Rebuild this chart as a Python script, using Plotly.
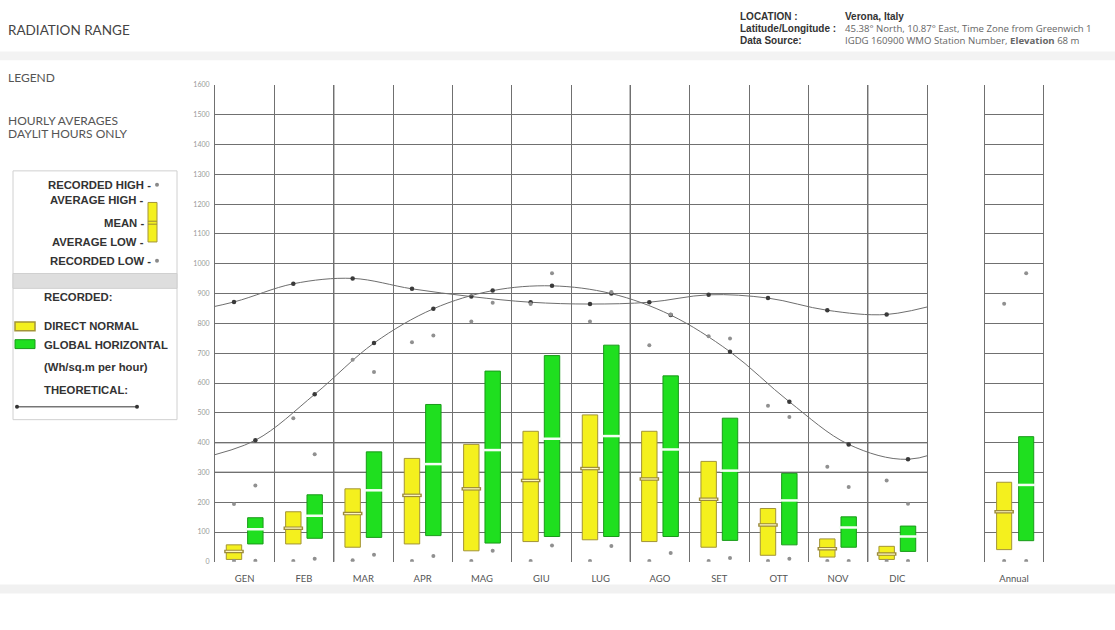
import plotly.graph_objects as go

# ---------------- data ----------------
months = ["GEN", "FEB", "MAR", "APR", "MAG", "GIU", "LUG", "AGO", "SET", "OTT", "NOV", "DIC"]

# Direct normal (yellow)
dn_avg_high = [57, 168, 245, 347, 394, 438, 493, 438, 337, 179, 77, 52]
dn_mean     = [35, 113, 162, 223, 245, 273, 313, 278, 210, 124, 44, 26]
dn_avg_low  = [8, 60, 49, 60, 37, 68, 74, 68, 49, 22, 16, 8]
dn_rec_high = [194, 482, 678, 737, 806, 865, 806, 727, 757, 524, 319, 273]
dn_rec_low  = [3, 3, 5, 3, 3, 3, 3, 3, 3, 3, 3, 3]
dn_theo     = [872, 933, 951, 916, 890, 871, 865, 871, 896, 885, 844, 830]

# Global horizontal (green)
gh_avg_high = [148, 225, 369, 528, 640, 692, 727, 624, 482, 297, 151, 120]
gh_mean     = [109, 155, 240, 328, 375, 413, 422, 377, 306, 206, 115, 85]
gh_avg_low  = [60, 79, 82, 88, 63, 85, 85, 85, 72, 57, 49, 35]
gh_rec_high = [256, 361, 637, 759, 869, 968, 905, 830, 749, 486, 251, 195]
gh_rec_low  = [4, 10, 24, 20, 37, 55, 53, 30, 13, 10, 3, 3]
gh_theo     = [408, 562, 734, 849, 910, 926, 900, 828, 705, 537, 394, 344]

# Annual
ann_dn = dict(hi=267, mean=168, lo=41, rhi=866, rlo=3)
ann_gh = dict(hi=420, mean=258, lo=71, rhi=968, rlo=3)

y_ticks = list(range(0, 1700, 100))

# ---------------- styling ----------------
W, H = 1115, 630
YEL_OFF, GRN_OFF, BW = 0.32, 0.68, 0.26
YEL_FILL, YEL_EDGE = "#f4f01e", "#a39437"
GRN_FILL, GRN_EDGE = "#1fdf1f", "#1a9a1a"
GRID = "#707070"
FONT = "Lato, 'DejaVu Sans', sans-serif"
NARROW = "'Liberation Sans Narrow', 'Liberation Sans', Arial, sans-serif"
WIDE = "'Open Sans', 'Liberation Sans', sans-serif"


def px(x):
    return x / W


def py(y):
    return 1 - y / H


fig = go.Figure()


def add_group(xpos, hi, lo, mean, rhi, rlo, fill, edge, mo, mi, xa, ya, msize):
    fig.add_trace(go.Bar(
        x=xpos, y=[h - l for h, l in zip(hi, lo)], base=lo, width=BW,
        marker=dict(color=fill, line=dict(color=edge, width=1)),
        xaxis=xa, yaxis=ya, showlegend=False, hoverinfo="skip"))
    fig.add_trace(go.Scatter(
        x=xpos, y=mean, mode="markers", xaxis=xa, yaxis=ya, showlegend=False,
        marker=dict(symbol="line-ew", size=msize, line=dict(color=mo, width=3.5 if mi else 2.5))))
    if mi:
        fig.add_trace(go.Scatter(
            x=xpos, y=mean, mode="markers", xaxis=xa, yaxis=ya, showlegend=False,
            marker=dict(symbol="line-ew", size=msize - 2, line=dict(color=mi, width=1.2))))
    fig.add_trace(go.Scatter(
        x=xpos + xpos, y=rhi + rlo, mode="markers", xaxis=xa, yaxis=ya, showlegend=False,
        marker=dict(size=4, color="#909090")))


yel_x = [i + YEL_OFF for i in range(len(months))]
grn_x = [i + GRN_OFF for i in range(len(months))]

# theoretical curves (periodic wrap so the curve reaches both plot edges)
fig.add_trace(go.Scatter(
    x=[yel_x[-1] - 12] + yel_x + [yel_x[0] + 12],
    y=[dn_theo[-1]] + dn_theo + [dn_theo[0]],
    mode="lines+markers", line=dict(color="#6e6e6e", width=1, shape="spline"),
    marker=dict(size=4.5, color="#3a3a3a"), showlegend=False))
fig.add_trace(go.Scatter(
    x=[grn_x[-1] - 12] + grn_x + [grn_x[0] + 12],
    y=[gh_theo[-1]] + gh_theo + [gh_theo[0]],
    mode="lines+markers", line=dict(color="#6e6e6e", width=1, shape="spline"),
    marker=dict(size=4.5, color="#3a3a3a"), showlegend=False))

add_group(yel_x, dn_avg_high, dn_avg_low, dn_mean, dn_rec_high, dn_rec_low,
          YEL_FILL, YEL_EDGE, "#9b8a3a", "#fff8c0", "x", "y", 14)
add_group(grn_x, gh_avg_high, gh_avg_low, gh_mean, gh_rec_high, gh_rec_low,
          GRN_FILL, GRN_EDGE, "#f4fff4", None, "x", "y", 14)

add_group([0.33], [ann_dn["hi"]], [ann_dn["lo"]], [ann_dn["mean"]], [ann_dn["rhi"]], [ann_dn["rlo"]],
          YEL_FILL, YEL_EDGE, "#9b8a3a", "#fff8c0", "x2", "y2", 14)
add_group([0.71], [ann_gh["hi"]], [ann_gh["lo"]], [ann_gh["mean"]], [ann_gh["rhi"]], [ann_gh["rlo"]],
          GRN_FILL, GRN_EDGE, "#f4fff4", None, "x2", "y2", 14)

ydom = [py(564), py(81)]
common_y = dict(range=[0, 1600], domain=ydom, showgrid=False, zeroline=False,
                showline=True, mirror=True, linecolor=GRID, linewidth=1, ticks="",
                minor=dict(tickmode="array", tickvals=y_ticks[1:], showgrid=True,
                           gridcolor=GRID, gridwidth=1, ticks=""))

fig.update_layout(
    width=W, height=H, margin=dict(l=0, r=0, t=0, b=0),
    paper_bgcolor="white", plot_bgcolor="white", barmode="overlay",
    font=dict(family=FONT, color="#444"),
    xaxis=dict(domain=[px(215), px(927)], range=[0, 12], anchor="y",
               tickmode="array", tickvals=[i + 0.5 for i in range(12)], ticktext=months,
               showgrid=False, zeroline=False, showline=False, ticks="",
               ticklabelstandoff=10,
               tickfont=dict(size=9.5, color="#555", family=FONT),
               minor=dict(tickmode="array", tickvals=list(range(1, 12)), showgrid=True,
                          gridcolor=GRID, gridwidth=1, ticks="")),
    yaxis=dict(anchor="x", tickmode="array", tickvals=y_ticks, ticklabelstandoff=3,
               tickfont=dict(size=7, color="#999", family=FONT), **common_y),
    xaxis2=dict(domain=[px(985), px(1043)], range=[0, 1], anchor="y2",
                tickmode="array", tickvals=[0.5], ticktext=["Annual"],
                showgrid=False, zeroline=False, showline=False, ticks="",
                ticklabelstandoff=10,
                tickfont=dict(size=9.5, color="#555", family=FONT)),
    yaxis2=dict(anchor="x2", showticklabels=False, **common_y),
)

shapes = []
# darker month dividers / value lines
for xv in [2, 7, 11]:
    shapes.append(dict(type="line", xref="x", yref="y domain", x0=xv, x1=xv, y0=0, y1=1,
                       line=dict(color="#333", width=1.3), layer="below"))
for yv in [300, 400]:
    shapes.append(dict(type="line", xref="x domain", yref="y", x0=0, x1=1, y0=yv, y1=yv,
                       line=dict(color="#333", width=1.3), layer="below"))
# header / footer bands
shapes.append(dict(type="rect", xref="paper", yref="paper", x0=0, x1=1, y0=py(56), y1=py(47),
                   fillcolor="#f3f3f3", line=dict(width=0), layer="below"))
shapes.append(dict(type="rect", xref="paper", yref="paper", x0=0, x1=1, y0=py(596), y1=py(587),
                   fillcolor="#f1f1f1", line=dict(width=0), layer="below"))
# legend box
shapes.append(dict(type="rect", xref="paper", yref="paper", x0=px(13), x1=px(177), y0=py(420), y1=py(168),
                   fillcolor="white", line=dict(color="#d0d0d0", width=1), layer="below"))
shapes.append(dict(type="rect", xref="paper", yref="paper", x0=px(13), x1=px(177), y0=py(287), y1=py(272),
                   fillcolor="#dedede", line=dict(color="#cfcfcf", width=1), layer="below"))
# legend mini bar
shapes.append(dict(type="rect", xref="paper", yref="paper", x0=px(148), x1=px(157), y0=py(240), y1=py(200),
                   fillcolor=YEL_FILL, line=dict(color=YEL_EDGE, width=1)))
shapes.append(dict(type="line", xref="paper", yref="paper", x0=px(148), x1=px(157), y0=py(219), y1=py(219),
                   line=dict(color="#9b8a3a", width=1)))
shapes.append(dict(type="line", xref="paper", yref="paper", x0=px(148), x1=px(157), y0=py(222), y1=py(222),
                   line=dict(color="#9b8a3a", width=1)))
# legend colour swatches
shapes.append(dict(type="rect", xref="paper", yref="paper", x0=px(15), x1=px(35), y0=py(330), y1=py(321),
                   fillcolor=YEL_FILL, line=dict(color=YEL_EDGE, width=1.5)))
shapes.append(dict(type="rect", xref="paper", yref="paper", x0=px(15), x1=px(35), y0=py(348), y1=py(339),
                   fillcolor=GRN_FILL, line=dict(color=GRN_EDGE, width=1)))
# theoretical sample line with end dots
shapes.append(dict(type="line", xref="paper", yref="paper", x0=px(17), x1=px(137), y0=py(407), y1=py(407),
                   line=dict(color="#333", width=1)))
for xd in [17, 137]:
    shapes.append(dict(type="circle", xref="paper", yref="paper", x0=px(xd - 2), x1=px(xd + 2),
                       y0=py(409), y1=py(405), fillcolor="#333", line=dict(width=0)))
# recorded high/low legend dots
for yd in [182, 259]:
    shapes.append(dict(type="circle", xref="paper", yref="paper", x0=px(155), x1=px(159),
                       y0=py(yd + 2), y1=py(yd - 2), fillcolor="#8a8a8a", line=dict(width=0)))
fig.update_layout(shapes=shapes)

ann = []


def txt(x, y, s, size=8, color="#333", anchor="left", family=FONT):
    ann.append(dict(x=px(x), y=py(y), xref="paper", yref="paper", text=s, showarrow=False,
                    xanchor=anchor, yanchor="middle", xshift=-2 if anchor == "left" else 0,
                    font=dict(size=size, color=color, family=family)))


txt(8, 25, "RADIATION RANGE", 13.5, "#444")
txt(8, 73, "LEGEND", 12, "#555")
txt(8, 117, "HOURLY AVERAGES", 12, "#555")
txt(8, 130, "DAYLIT HOURS ONLY", 12, "#555")

txt(740, 12, "<b>LOCATION :</b>", 10, "#333", family=NARROW)
txt(845, 12, "<b>Verona, Italy</b>", 10, "#333", family=NARROW)
txt(740, 24, "<b>Latitude/Longitude :</b>", 10, "#333", family=NARROW)
txt(845, 24, "45.38° North, 10.87° East, Time Zone from Greenwich 1", 9.6, "#666", family=WIDE)
txt(740, 36, "<b>Data Source:</b>", 10, "#333", family=NARROW)
txt(845, 36, "IGDG 160900 WMO Station Number, <b>Elevation</b> 68 m", 9.6, "#666", family=WIDE)

LS = 11.3
txt(153, 182, "<b>RECORDED HIGH -</b>", LS, "#333", "right", NARROW)
txt(146, 198, "<b>AVERAGE HIGH -</b>", LS, "#333", "right", NARROW)
txt(146, 221, "<b>MEAN -</b>", LS, "#333", "right", NARROW)
txt(146, 240, "<b>AVERAGE LOW -</b>", LS, "#333", "right", NARROW)
txt(153, 259, "<b>RECORDED LOW -</b>", LS, "#333", "right", NARROW)
txt(44, 296, "<b>RECORDED:</b>", LS, "#333", family=NARROW)
txt(44, 325, "<b>DIRECT NORMAL</b>", LS, "#333", family=NARROW)
txt(44, 344, "<b>GLOBAL HORIZONTAL</b>", LS, "#333", family=NARROW)
txt(44, 367, "<b>(Wh/sq.m per hour)</b>", LS, "#333", family=NARROW)
txt(44, 390, "<b>THEORETICAL:</b>", LS, "#333", family=NARROW)

fig.update_layout(annotations=ann)

fig.write_html("out.html", config={"displayModeBar": False},
               post_script="document.body.style.margin='0px';document.body.style.overflow='hidden';")
